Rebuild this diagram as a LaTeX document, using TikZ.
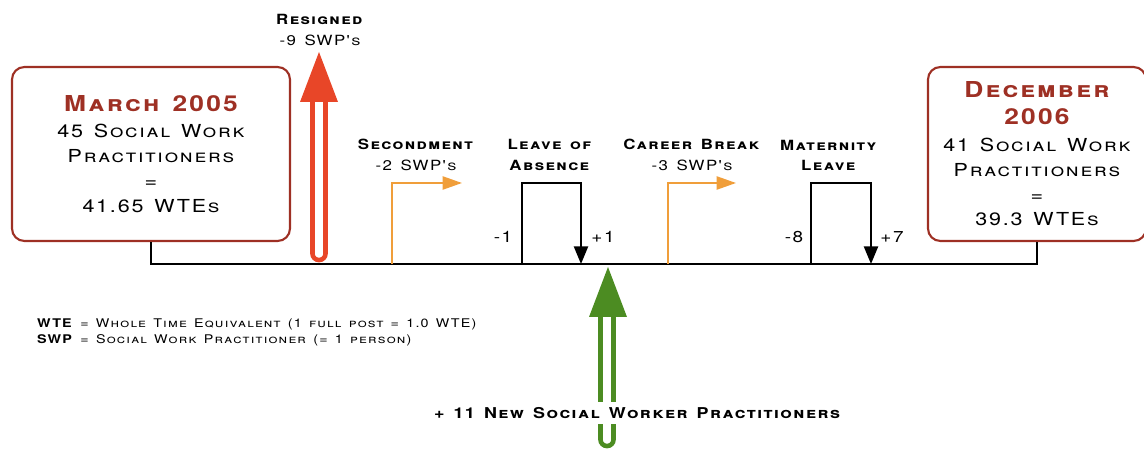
\documentclass[tikz,border=0pt]{standalone}
\usepackage{fontspec}
\setmainfont{TeX Gyre Heros}
\newfontfamily\plate{TeX Gyre Heros}[Letters=SmallCaps,LetterSpace=10,FakeStretch=1.2,WordSpace=1.4]
\usetikzlibrary{arrows.meta}
\definecolor{brick}{RGB}{158,48,36}
\definecolor{quit_red}{RGB}{232,70,40}
\definecolor{move_orange}{RGB}{240,158,58}
\definecolor{hire_green}{RGB}{76,140,34}
\newcommand\datetitle[1]{{\color{brick}\bfseries\fontsize{12.5}{15.5}\selectfont #1}}

\begin{document}
\begin{tikzpicture}[x=0.02cm,y=-0.02cm,
  datebox/.style={rectangle,draw=brick,line width=1.2pt,rounded corners=7pt,fill=white,align=center,inner sep=0pt,font=\plate\fontsize{10.2}{14.2}\selectfont},
  event/.style={align=center,font=\plate\fontsize{8}{11.5}\selectfont},
  count/.style={font=\plate\fontsize{9}{10}\selectfont},
  timeline/.style={draw,line width=1.1pt},
  away/.style={draw,line width=1pt,move_orange,-{Triangle[length=11pt,width=7.5pt]}},
  back/.style={draw,line width=1.1pt,-{Triangle[length=10pt,width=8pt]}},
  shaft/.style={draw,line width=2.6pt,rounded corners=3.6pt}
  ]

\clip (0,0) rectangle (1144,449);

% start and end boxes
\node[datebox,minimum width=5.56cm,minimum height=3.48cm] (mar) at (151,154)
  {\datetitle{March 2005}\\[1pt]
   45 Social Work\\ Practitioners\\ =\\ 41.65 WTEs};
\node[datebox,minimum width=4.36cm,minimum height=3.48cm] (dec) at (1037,154)
  {\datetitle{December}\\[1pt] \datetitle{2006}\\[1pt]
   41 Social Work\\ Practitioners\\ =\\ 39.3 WTEs};

% points on the line
\coordinate (quit) at (319,264);
\coordinate (sec) at (392,264);
\coordinate (loaout) at (522,264);
\coordinate (loain) at (581,264);
\coordinate (hire) at (607,264);
\coordinate (cb) at (668,264);
\coordinate (matout) at (811,264);
\coordinate (matin) at (871,264);

% timeline
\draw[timeline] (mar.south) -- (mar.south |- sec) -- (dec.south |- sec) -- (dec.south);

% secondment and career break
\draw[away] (sec) -- ++(0,-81) -- ++(70,0);
\draw[away] (cb) -- ++(0,-81) -- ++(68,0);

% leave and back again
\draw[back] (loaout) -- ++(0,-81) -| (loain);
\draw[back] (matout) -- ++(0,-81) -| (matin);
\node[count] (loaminus) at (503,237) {-1};
\node[count] (loaplus) at (603,237) {+1};
\node[count] (matminus) at (794,237) {-8};
\node[count] (matplus) at (892,237) {+7};

% resigned
\draw[shaft,quit_red] (312.5,102) -- (312.5,260) -- (325.5,260) -- (325.5,102);
\fill[quit_red] (300,102) -- (338,102) -- (319,52) -- cycle;

% new staff
\draw[shaft,hire_green] (600.5,317) -- (600.5,446) -- (613.5,446) -- (613.5,317);
\fill[hire_green] (589,317) -- (627,317) -- (608,267) -- cycle;

% event labels
\node[event] (resigned) at (320,30) {\textbf{Resigned}\\ -9 SWP's};
\node[event] (secl) at (416,155) {\textbf{Secondment}\\ -2 SWP's};
\node[event] (loal) at (550,155) {\textbf{Leave of}\\ \textbf{Absence}};
\node[event] (cbl) at (692,155) {\textbf{Career Break}\\ -3 SWP's};
\node[event] (matl) at (829,155) {\textbf{Maternity}\\ \textbf{Leave}};
\node[fill=white,inner xsep=2pt,inner ysep=3pt,font=\plate\bfseries\fontsize{8.5}{11}\selectfont] (newl) at (637,413)
  {+ 11 New Social Worker Practitioners};

% key
\node[anchor=west,align=left,font=\plate\fontsize{6.8}{9.1}\selectfont] (key) at (31,332)
  {\textbf{WTE} = Whole Time Equivalent (1 full post = 1.0 WTE)\\
   \textbf{SWP} = Social Work Practitioner (= 1 person)};

\end{tikzpicture}
\end{document}
